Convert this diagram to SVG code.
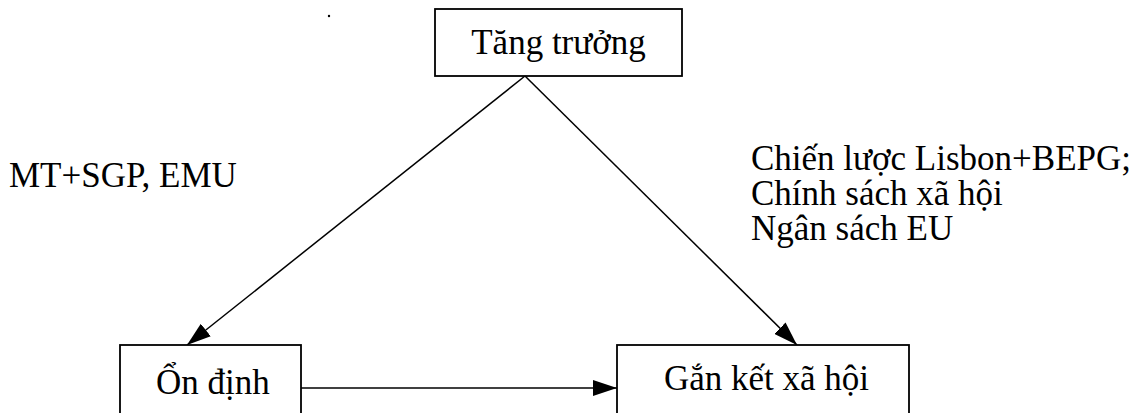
<svg xmlns="http://www.w3.org/2000/svg" width="1140" height="413" viewBox="0 0 1140 413">
<style>
.box{fill:#fff;stroke:#000;stroke-width:1.8}
.t{font-family:"Liberation Serif","Times New Roman",serif;font-size:35px;fill:#000}
.c{fill:none;stroke:#000;stroke-width:1.5}
</style>
<defs>
<marker id="ah" viewBox="0 0 24 16" refX="24" refY="8" markerWidth="24" markerHeight="16" markerUnits="userSpaceOnUse" orient="auto">
<path d="M0,0 L24,8 L0,16 Z" fill="#000"/>
</marker>
</defs>
<rect width="1140" height="413" fill="#fff"/>
<circle cx="329" cy="16" r="1.2" fill="#000"/>
<g id="connectors">
<line class="c" x1="525" y1="76" x2="187" y2="345" marker-end="url(#ah)"/>
<line class="c" x1="525" y1="76" x2="797" y2="345" marker-end="url(#ah)"/>
<line class="c" x1="301" y1="388" x2="617" y2="388" marker-end="url(#ah)"/>
</g>
<g id="tang-truong">
<rect class="box" x="435" y="9" width="247" height="67"/>
<text class="t" x="558.5" y="54" text-anchor="middle">Tăng trưởng</text>
</g>
<g id="on-dinh">
<rect class="box" x="120" y="345" width="181" height="80"/>
<text class="t" x="156" y="394">Ổn định</text>
</g>
<g id="gan-ket">
<rect class="box" x="617" y="345" width="292" height="80"/>
<text class="t" x="664" y="390">Gắn kết xã hội</text>
</g>
<g id="label-left">
<text class="t" x="9" y="187">MT+SGP, EMU</text>
</g>
<g id="label-right">
<text class="t" x="751" y="170">Chiến lược Lisbon+BEPG;</text>
<text class="t" x="751" y="205">Chính sách xã hội</text>
<text class="t" x="751" y="240">Ngân sách EU</text>
</g>
</svg>
